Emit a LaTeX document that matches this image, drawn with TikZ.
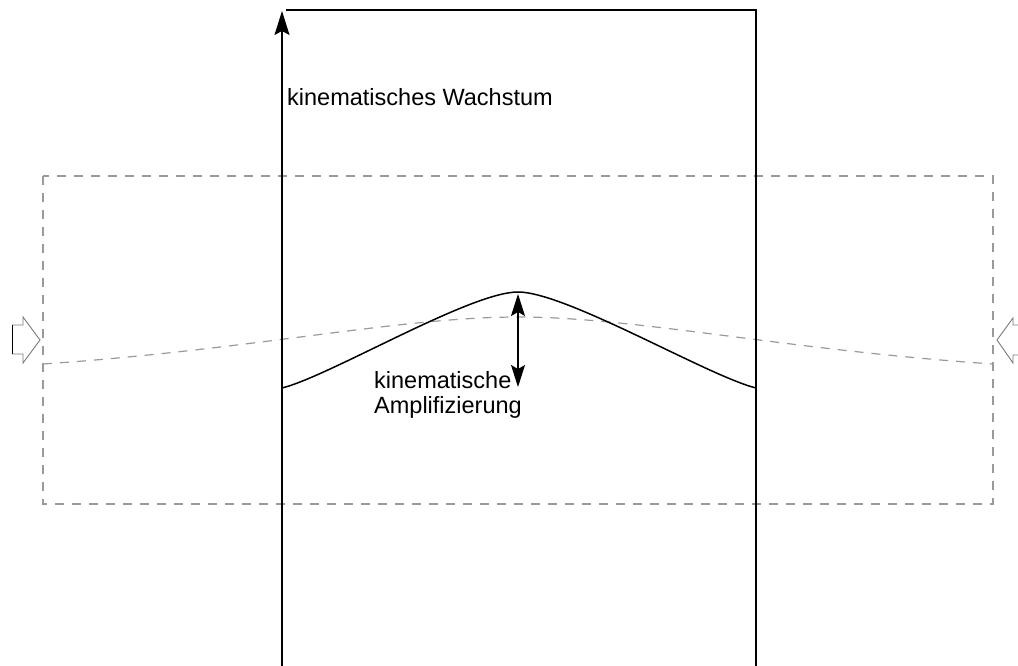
\documentclass[tikz,border=0pt]{standalone}
\usepackage{fontspec}
\setmainfont{Liberation Sans}
\usetikzlibrary{arrows.meta}
\definecolor{dgray}{HTML}{9A9A9A}
\definecolor{agray}{HTML}{7A7A7A}
\tikzset{
  blk/.style={line width=1.5pt, black},
  dsh/.style={line width=1.2pt, dgray, dash pattern=on 9pt off 8pt},
  bigtip/.style={-{Stealth[length=24pt,width=15pt,inset=4pt]}},
  dbltip/.style={{Stealth[length=22pt,width=14pt,inset=4pt]}-{Stealth[length=22pt,width=14pt,inset=4pt]}},
  hollow/.style={line width=0.9pt, agray, line join=miter},
  lbl/.style={inner sep=0pt, font=\fontsize{23.5}{25}\selectfont},
}
\begin{document}
\begin{tikzpicture}[x=1pt,y=-1pt]
\useasboundingbox (0,0) rectangle (1018,666);
\clip (0,0) rectangle (1018,666);
\fill[white] (0,0) rectangle (1018,666);
% coordinates
\coordinate (axb) at (282,666);
\coordinate (axt) at (282,11);
\coordinate (tl) at (286,10);
\coordinate (tr) at (756,10);
\coordinate (br) at (756,666);
\coordinate (peak) at (518,294);
\coordinate (foot) at (518,387);
% dashed box
\draw[dsh] (43,176) rectangle (993,504);
% dashed curve
\draw[dsh] (43,364) .. controls (250,350) and (400,317) .. (518,317)
  .. controls (636,317) and (786,350) .. (993,364);
% frame lines
\draw[blk, bigtip] (axb) -- (axt);
\draw[blk, line join=miter] (tl) -- (tr) -- (br);
% solid curve
\draw[blk] (282,388) .. controls (330,376) and (470,292) .. (518,292)
  .. controls (566,292) and (708,376) .. (756,388);
% double arrow
\draw[line width=1.3pt, dbltip] (peak) -- (foot);
% hollow arrows
\draw[hollow] (12,325) -- (23,325) -- (23,317) -- (40,340) -- (23,363) -- (23,354) -- (12,354);
\draw[line width=1pt, black] (12,325) -- (12,354);
\draw[hollow] (1030,325) -- (1013,325) -- (1013,318) -- (997,340) -- (1013,363) -- (1013,355) -- (1030,355);
% labels
\node[lbl, anchor=base west] (wachstum) at (287,106) {kinematisches Wachstum};
\node[lbl, anchor=base west] (kin) at (374,388) {kinematische};
\node[lbl, anchor=base west] (ampl) at (374,413) {Amplifizierung};
\end{tikzpicture}
\end{document}
